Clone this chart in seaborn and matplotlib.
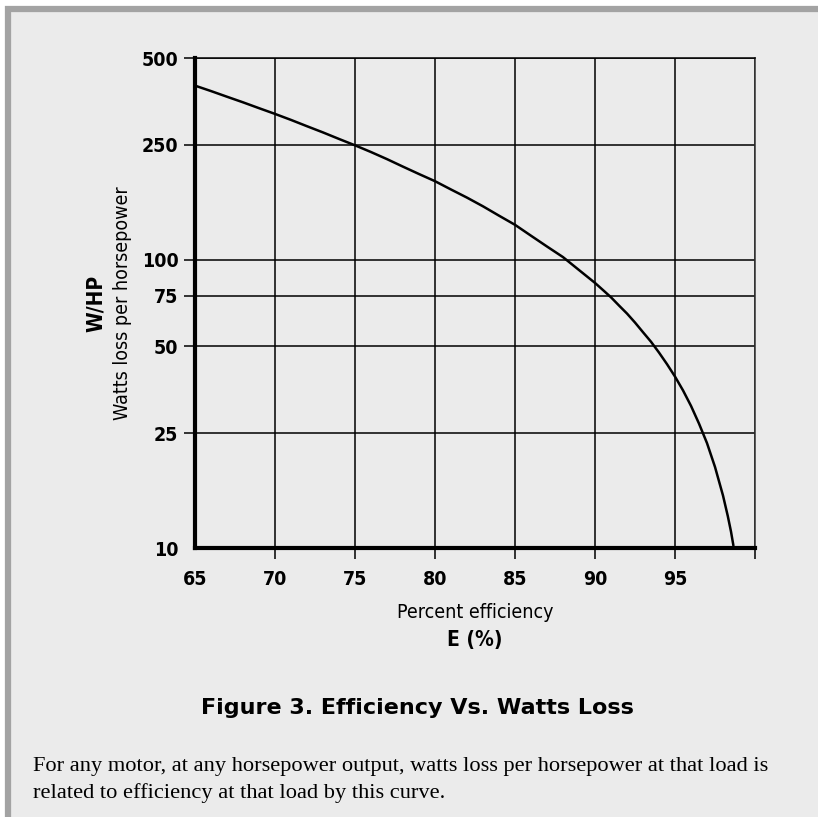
import matplotlib
matplotlib.use("Agg")
import matplotlib.pyplot as plt
from matplotlib.patches import Rectangle
import seaborn as sns
import pandas as pd

# values (efficiency %, watts loss per hp)
efficiency = [65, 66, 67, 68, 69, 70, 71, 72, 73, 74, 75, 76, 77, 78, 79,
              80, 81, 82, 83, 84, 85, 86, 87, 88, 89, 90, 90.5, 91, 91.5,
              92, 92.5, 93, 93.5, 94, 94.5, 95, 95.5, 96, 96.5, 97, 97.5,
              98, 98.3, 98.5, 98.65]
watts_loss = [401, 384, 367, 351, 335, 320, 305, 290, 276, 262, 249, 236,
              223, 210, 198, 187, 175, 164, 153, 142, 132, 121, 111, 102, 92,
              83, 78.4, 74, 69.3, 65, 60.5, 56, 51.9, 47.6, 43.4, 39.3, 35.2,
              31.1, 27, 23.1, 19.1, 15.2, 12.9, 11.4, 10.2]

x_ticks = [65, 70, 75, 80, 85, 90, 95, 100]
x_tick_labels = ["65", "70", "75", "80", "85", "90", "95", ""]
y_ticks = [10, 25, 50, 75, 100, 250, 500]
y_tick_labels = ["10", "25", "50", "75", "100", "250", "500"]

df = pd.DataFrame({"E": efficiency, "WHP": watts_loss})

sns.set_theme(style="white")
plt.rcParams["font.family"] = ["DejaVu Sans"]
plt.rcParams["font.stretch"] = "condensed"
plt.rcParams["text.color"] = "black"
plt.rcParams["xtick.color"] = "black"
plt.rcParams["ytick.color"] = "black"

W, H = 818, 817
fig = plt.figure(figsize=(W / 100, H / 100), dpi=100, facecolor="white")

# grey panel with border
fig.patches.append(Rectangle((8 / W, -0.05), 1.1, 1.05 - 8.5 / H,
                             transform=fig.transFigure, facecolor="#ebebeb",
                             edgecolor="#a3a3a3", linewidth=4.5, zorder=-5))

ax = fig.add_axes([195 / W, 1 - 548 / H, (755 - 195) / W, (548 - 58) / H])
ax.set_facecolor("#ebebeb")
ax.set_yscale("log")
ax.set_xlim(65, 100)
ax.set_ylim(10, 500)

ax.grid(True, which="major", color="black", linewidth=1.1)
ax.set_axisbelow(True)

sns.lineplot(data=df, x="E", y="WHP", ax=ax, color="black", linewidth=1.8,
             zorder=3)

ax.set_xticks(x_ticks)
ax.set_xticklabels(x_tick_labels)
ax.minorticks_off()
ax.set_yticks(y_ticks)
ax.set_yticklabels(y_tick_labels)
ax.tick_params(axis="both", which="major", direction="out", length=8,
               width=1.1, color="black", labelcolor="black", labelsize=14,
               left=True, bottom=True)
ax.tick_params(axis="x", pad=8)
ax.tick_params(axis="y", pad=4)
for lab in ax.get_xticklabels() + ax.get_yticklabels():
    lab.set_fontweight("bold")
    lab.set_fontstretch("condensed")
# no tick marks at the corner (65 / 10)
ax.xaxis.get_major_ticks()[0].tick1line.set_visible(False)
ax.yaxis.get_major_ticks()[0].tick1line.set_visible(False)

for side in ["left", "bottom"]:
    ax.spines[side].set_linewidth(3)
    ax.spines[side].set_color("black")
ax.spines["top"].set_linewidth(1.1)
ax.spines["top"].set_color("black")
ax.spines["right"].set_linewidth(1.1)
ax.spines["right"].set_color("#333333")
ax.set_xlabel("")
ax.set_ylabel("")

def fx(px):
    return px / W

def fy(py):
    return 1 - py / H

fig.text(fx(96), fy(303), "W/HP", rotation=90, ha="center", va="center",
         fontsize=15, fontweight="bold", fontstretch="condensed")
fig.text(fx(123), fy(303), "Watts loss per horsepower", rotation=90,
         ha="center", va="center", fontsize=14, fontstretch="condensed")
fig.text(fx(475), fy(612), "Percent efficiency", ha="center", va="center",
         fontsize=14, fontstretch="condensed")
fig.text(fx(475), fy(640), "E (%)", ha="center", va="center",
         fontsize=15, fontweight="bold", fontstretch="condensed")

fig.text(fx(417), fy(708), "Figure 3. Efficiency Vs. Watts Loss",
         ha="center", va="center", fontsize=16, fontweight="bold",
         family=["DejaVu Sans"], fontstretch="normal")

fig.text(fx(33), fy(767),
         "For any motor, at any horsepower output, watts loss per horsepower at that load is",
         ha="left", va="center", fontsize=16.1, family=["Liberation Serif"])
fig.text(fx(33), fy(793), "related to efficiency at that load by this curve.",
         ha="left", va="center", fontsize=16.1, family=["Liberation Serif"])

fig.savefig("out.png", dpi=100, facecolor=fig.get_facecolor())
